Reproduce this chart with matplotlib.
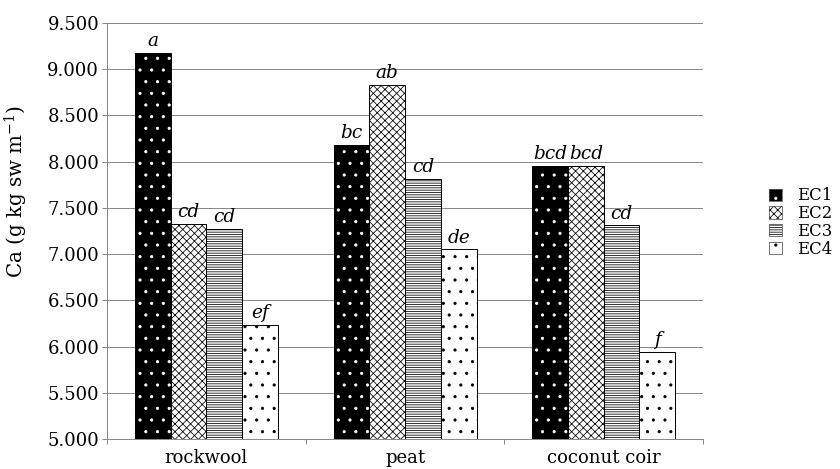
import matplotlib
matplotlib.use("Agg")
import matplotlib.pyplot as plt
from matplotlib.patches import Patch
import numpy as np

# Substrates and EC treatments
substrates = ["rockwool", "peat", "coconut coir"]
treatments = ["EC1", "EC2", "EC3", "EC4"]

# Ca content per substrate, one list per EC treatment
ec1 = [9.18, 8.18, 7.95]
ec2 = [7.33, 8.83, 7.95]
ec3 = [7.27, 7.81, 7.31]
ec4 = [6.23, 7.05, 5.94]

# Significance letters, same layout as the values
letters_ec1 = ["a", "bc", "bcd"]
letters_ec2 = ["cd", "ab", "bcd"]
letters_ec3 = ["cd", "cd", "cd"]
letters_ec4 = ["ef", "de", "f"]

y_ticks = [5.0, 5.5, 6.0, 6.5, 7.0, 7.5, 8.0, 8.5, 9.0, 9.5]
y_tick_labels = ["5.000", "5.500", "6.000", "6.500", "7.000",
                 "7.500", "8.000", "8.500", "9.000", "9.500"]

values = [ec1, ec2, ec3, ec4]
letters = [letters_ec1, letters_ec2, letters_ec3, letters_ec4]

# fill styles: (face colour, hatch colour, hatch pattern)
styles = [
    ("black", "white", "."),
    ("white", "black", "xxx"),
    ("white", "black", "-----"),
    ("white", "black", "."),
]

plt.rcParams["font.family"] = ["DejaVu Serif"]
plt.rcParams["hatch.linewidth"] = 0.8
plt.rcParams["mathtext.fontset"] = "dejavuserif"

FS = 18.5
grid_col = "#878787"

fig = plt.figure(figsize=(12, 6.7), dpi=70)
ax = fig.add_axes([0.1274, 0.064, 0.7096, 0.887])

x = np.arange(len(substrates))
width = 0.18
offsets = (np.arange(len(treatments)) - 1.5) * width

handles = []
for vals, labs, off, (face, hcol, hatch), name in zip(values, letters, offsets, styles, treatments):
    base = 5.0
    heights = np.array(vals) - base
    ax.bar(x + off, heights, width, bottom=base, color=face, edgecolor=hcol,
           hatch=hatch, linewidth=0, zorder=3)
    ax.bar(x + off, heights, width, bottom=base, fill=False,
           edgecolor="black", linewidth=1.0, zorder=4)
    for xi, v, lab in zip(x + off, vals, labs):
        ax.annotate(lab, (xi, v), xytext=(0, 7), textcoords="offset points",
                    ha="center", va="baseline", fontsize=19, style="italic",
                    zorder=5)
    handles.append((Patch(facecolor=face, edgecolor=hcol, hatch=hatch, linewidth=0),
                    Patch(fill=False, edgecolor="#555555", linewidth=0.8)))

ax.set_xlim(-0.5, 2.5)
ax.set_ylim(5.0, 9.5)
ax.set_yticks(y_ticks)
ax.set_yticklabels(y_tick_labels, fontsize=FS)
ax.yaxis.grid(True, color=grid_col, linewidth=1.0, zorder=0)
ax.set_axisbelow(True)

# category labels centred under groups, tick marks at group boundaries
ax.set_xticks(x)
ax.set_xticklabels(substrates, fontsize=FS)
ax.tick_params(axis="x", which="major", length=0, pad=10)
ax.set_xticks(np.arange(-0.5, len(substrates)), minor=True)
ax.tick_params(axis="x", which="minor", length=5, color=grid_col, width=1.0)
ax.tick_params(axis="y", length=5, color=grid_col, width=1.0, pad=3)

for side in ("top", "right"):
    ax.spines[side].set_visible(False)
for side in ("left", "bottom"):
    ax.spines[side].set_color(grid_col)
    ax.spines[side].set_linewidth(1.0)

ax.set_ylabel(r"Ca (g kg sw m$^{\mathregular{-1}}$)", fontsize=20.5)
ax.yaxis.set_label_coords(-0.13, 0.594)

leg = ax.legend(handles, treatments, loc="center left",
                bbox_to_anchor=(1.1, 0.52), frameon=False, fontsize=17,
                handlelength=0.75, handleheight=0.75, handletextpad=0.9,
                labelspacing=0.05, borderaxespad=0)

fig.savefig("out.png", dpi=70)
